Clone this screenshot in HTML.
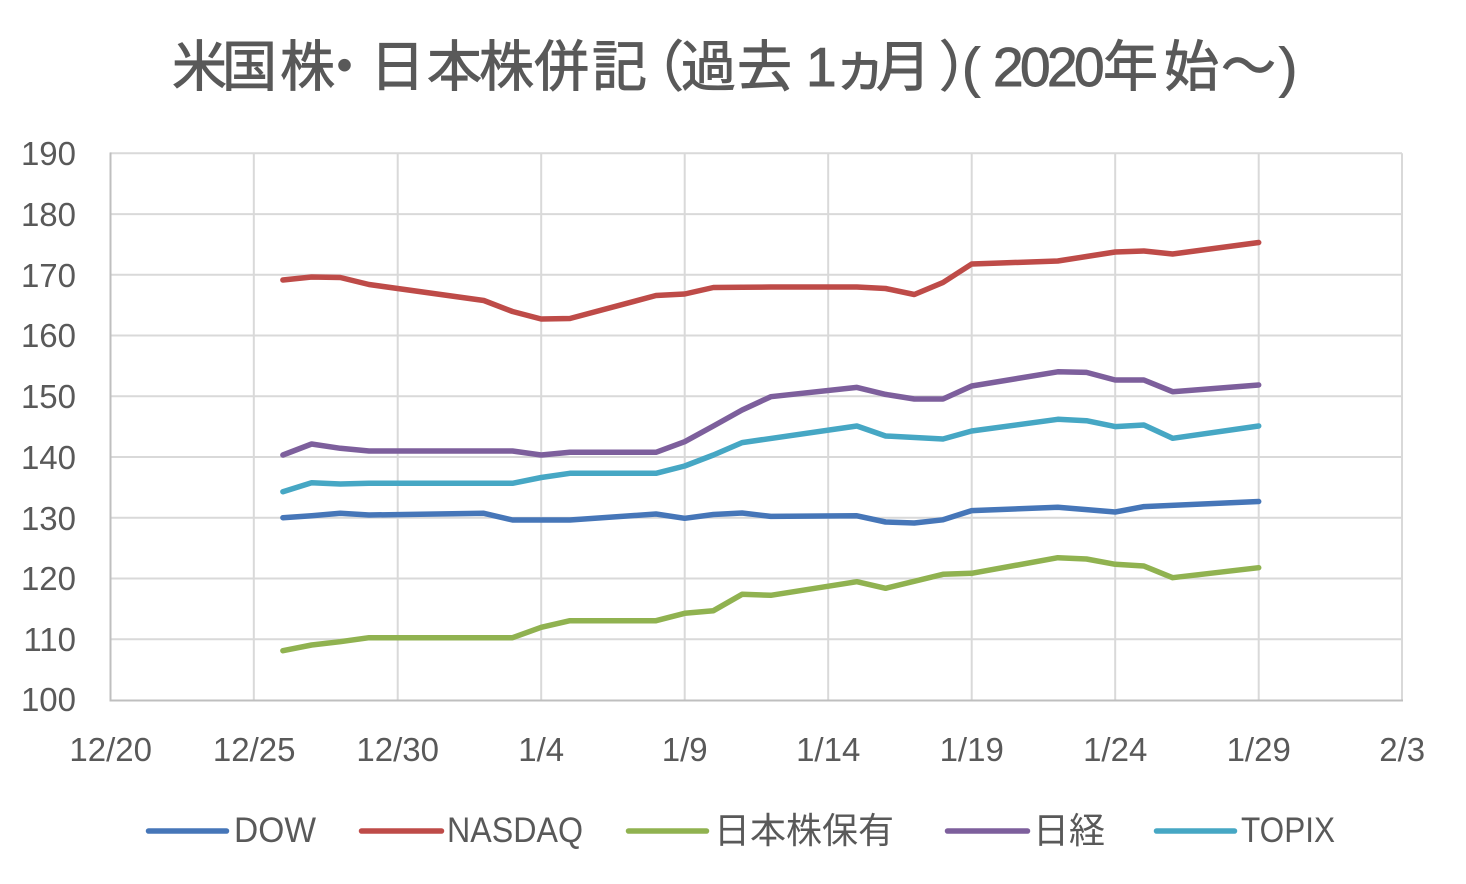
<!DOCTYPE html>
<html>
<head>
<meta charset="utf-8">
<style>
  html,body{margin:0;padding:0;background:#fff;}
  body{width:1466px;height:884px;overflow:hidden;}
  svg{display:block;}
  .tick{font-family:"Liberation Sans","Noto Sans CJK JP",sans-serif;font-size:33px;fill:#595959;}
  .leg{font-family:"Liberation Sans","Noto Sans CJK JP",sans-serif;font-size:35px;fill:#595959;}
  .legj{font-family:"Noto Sans CJK JP","Liberation Sans",sans-serif;font-size:36px;fill:#595959;}
  .title{font-family:"Liberation Sans","Noto Sans CJK JP",sans-serif;font-size:55px;fill:#595959;stroke:#595959;stroke-width:0.9;}
  .s{fill:none;stroke-width:5.5;stroke-linecap:round;stroke-linejoin:round;}
</style>
</head>
<body>
<svg width="1466" height="884" viewBox="0 0 1466 884" xmlns="http://www.w3.org/2000/svg">
  <rect x="0" y="0" width="1466" height="884" fill="#ffffff"/>

  <!-- Title -->
  <text class="title" y="86" x="172 222 280 317 370 427 479 534 592 629 681 737 806 833 876 939 962 993 1020 1047 1074 1103 1164 1221 1279">米国株・日本株併記（過去1ヵ月）(2020年始～)</text>

  <!-- horizontal gridlines -->
  <g stroke="#d9d9d9" stroke-width="2">
    <line x1="110" y1="153.3" x2="1402" y2="153.3"/>
    <line x1="110" y1="214.1" x2="1402" y2="214.1"/>
    <line x1="110" y1="274.8" x2="1402" y2="274.8"/>
    <line x1="110" y1="335.5" x2="1402" y2="335.5"/>
    <line x1="110" y1="396.3" x2="1402" y2="396.3"/>
    <line x1="110" y1="457.0" x2="1402" y2="457.0"/>
    <line x1="110" y1="517.7" x2="1402" y2="517.7"/>
    <line x1="110" y1="578.5" x2="1402" y2="578.5"/>
    <line x1="110" y1="639.2" x2="1402" y2="639.2"/>
    <!-- vertical gridlines -->
    <line x1="253.8" y1="153.3" x2="253.8" y2="700"/>
    <line x1="397.7" y1="153.3" x2="397.7" y2="700"/>
    <line x1="541.2" y1="153.3" x2="541.2" y2="700"/>
    <line x1="684.7" y1="153.3" x2="684.7" y2="700"/>
    <line x1="828.2" y1="153.3" x2="828.2" y2="700"/>
    <line x1="971.7" y1="153.3" x2="971.7" y2="700"/>
    <line x1="1115.2" y1="153.3" x2="1115.2" y2="700"/>
    <line x1="1258.7" y1="153.3" x2="1258.7" y2="700"/>
    <line x1="1402" y1="153.3" x2="1402" y2="700"/>
  </g>
  <!-- axes -->
  <g stroke="#bfbfbf" stroke-width="2">
    <line x1="110.5" y1="152.5" x2="110.5" y2="701"/>
    <line x1="109.5" y1="700.5" x2="1403" y2="700.5"/>
  </g>

  <!-- Y tick labels -->
  <g class="tick" text-anchor="end">
    <text x="76" y="165">190</text>
    <text x="76" y="226">180</text>
    <text x="76" y="287">170</text>
    <text x="76" y="347">160</text>
    <text x="76" y="408">150</text>
    <text x="76" y="469">140</text>
    <text x="76" y="530">130</text>
    <text x="76" y="590">120</text>
    <text x="76" y="651">110</text>
    <text x="76" y="711">100</text>
  </g>
  <!-- X tick labels -->
  <g class="tick" text-anchor="middle">
    <text x="110.7" y="761">12/20</text>
    <text x="254.2" y="761">12/25</text>
    <text x="397.7" y="761">12/30</text>
    <text x="541.2" y="761">1/4</text>
    <text x="684.7" y="761">1/9</text>
    <text x="828.2" y="761">1/14</text>
    <text x="971.7" y="761">1/19</text>
    <text x="1115.2" y="761">1/24</text>
    <text x="1258.7" y="761">1/29</text>
    <text x="1402.2" y="761">2/3</text>
  </g>

  <!-- Series -->
  <!-- NASDAQ -->
  <polyline class="s" stroke="#BE4B48" points="282.9,280 311.6,277 340.3,277.5 369,284.5 483.8,300.5 512.5,311.5 541.2,319 569.9,318.5 656,295.5 684.7,294 713.4,287.5 742.1,287.3 770.8,287 856.9,287 885.6,288.5 914.3,294.5 943,282.5 971.7,264 1000.4,263 1057.8,261 1086.5,256.5 1115.2,252 1143.9,251 1172.6,254 1258.7,242.5"/>
  <!-- 日経 -->
  <polyline class="s" stroke="#7D5F9C" points="282.9,455 311.6,444 340.3,448.3 369,451 512.5,451 541.2,455 569.9,452.3 656,452.3 684.7,441.7 713.4,426 742.1,410 770.8,396.7 856.9,387.4 885.6,394.4 914.3,399 943,399 971.7,386 1057.8,371.8 1086.5,372.4 1115.2,380 1143.9,380 1172.6,391.7 1258.7,385"/>
  <!-- TOPIX -->
  <polyline class="s" stroke="#46A7C4" points="282.9,491.7 311.6,482.7 340.3,484 369,483.3 512.5,483.3 541.2,477.5 569.9,473.3 656,473.3 684.7,466 713.4,455 742.1,442.6 856.9,426 885.6,436 943,439 971.7,431 1057.8,419.3 1086.5,420.7 1115.2,426.6 1143.9,425 1172.6,438.3 1258.7,426"/>
  <!-- DOW -->
  <polyline class="s" stroke="#4676B8" points="282.9,517.7 311.6,515.7 340.3,513.3 369,515 483.8,513.3 512.5,520 569.9,520 656,514 684.7,518.3 713.4,514.5 742.1,513 770.8,516.4 856.9,515.8 885.6,522 914.3,523 943,519.8 971.7,510.6 1057.8,507.3 1115.2,512 1143.9,506.6 1258.7,501.5"/>
  <!-- 日本株保有 -->
  <polyline class="s" stroke="#90B250" points="282.9,650.7 311.6,645 340.3,641.7 369,637.7 512.5,637.7 541.2,627.3 569.9,620.7 656,620.7 684.7,613.3 713.4,610.7 742.1,594.3 770.8,595.3 856.9,581.7 885.6,588.3 943,574.3 971.7,573.3 1057.8,557.7 1086.5,559 1115.2,564.3 1143.9,566 1172.6,577.7 1258.7,567.7"/>

  <!-- Legend -->
  <g class="s">
    <line x1="148.5" y1="831" x2="226.5" y2="831" stroke="#4676B8"/>
    <line x1="361.5" y1="831" x2="441.5" y2="831" stroke="#BE4B48"/>
    <line x1="628.5" y1="831" x2="706.5" y2="831" stroke="#90B250"/>
    <line x1="947.5" y1="831" x2="1027.5" y2="831" stroke="#7D5F9C"/>
    <line x1="1156.5" y1="831" x2="1234.5" y2="831" stroke="#46A7C4"/>
  </g>
  <text class="leg" x="234" y="842" textLength="82" lengthAdjust="spacingAndGlyphs">DOW</text>
  <text class="leg" x="447" y="842" textLength="136" lengthAdjust="spacingAndGlyphs">NASDAQ</text>
  <text class="legj" x="714" y="843">日本株保有</text>
  <text class="legj" x="1033" y="843">日経</text>
  <text class="leg" x="1241" y="842" textLength="94" lengthAdjust="spacingAndGlyphs">TOPIX</text>
</svg>
</body>
</html>
